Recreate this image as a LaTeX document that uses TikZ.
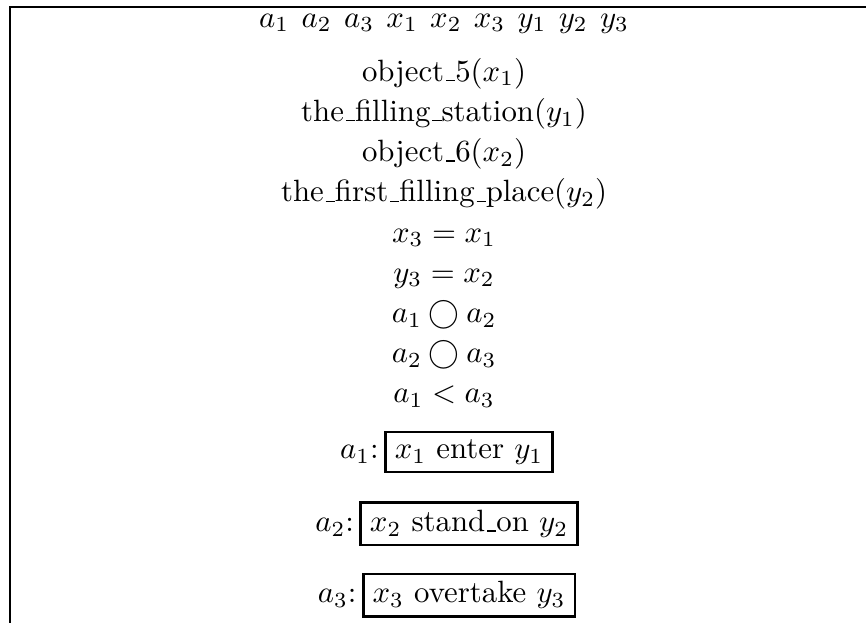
\documentclass[tikz,border=0pt]{standalone}
\usetikzlibrary{positioning}
% old-style low rule for the predicate names
\newcommand{\ubar}{\kern.06em\rule{.3em}{.4pt}}
\begin{document}
\begin{tikzpicture}[
  x=1pt,y=1pt,
  frame/.style={line width=0.75pt},
  cond/.style={anchor=base,inner sep=0pt},
  act/.style={draw,line width=0.8pt,inner xsep=3pt,inner ysep=2.5pt},
  lbl/.style={inner sep=0pt,anchor=base east}
]
  \useasboundingbox (0,0) rectangle (281.2,-202.3);
  \draw[frame] (281.2,-2.27) -| (3.25,-202.3);
  \node[cond] (refs) at (144.2,-8.8) {$a_1\hspace{4pt}a_2\hspace{4pt}a_3\hspace{4pt}x_1\hspace{4pt}x_2\hspace{4pt}x_3\hspace{4pt}y_1\hspace{4pt}y_2\hspace{4pt}y_3$};
  \node[cond] (c1) at (144.2,-26.4) {object\ubar 5($x_1$)};
  \node[cond] (c2) at (144.2,-39.45) {the\ubar filling\ubar station($y_1$)};
  \node[cond] (c3) at (144.2,-52.5) {object\ubar 6($x_2$)};
  \node[cond] (c4) at (144.2,-65.55) {the\ubar first\ubar filling\ubar place($y_2$)};
  \node[cond] (c5) at (144.2,-78.6) {$x_3 = x_1$};
  \node[cond] (c6) at (144.2,-91.65) {$y_3 = x_2$};
  \node[cond] (c7) at (144.2,-104.7) {$a_1 \bigcirc a_2$};
  \node[cond] (c8) at (144.2,-117.75) {$a_2 \bigcirc a_3$};
  \node[cond] (c9) at (144.2,-130.8) {$a_1 < a_3$};
  \node[act] (e1) at (152.3,-146.8) {$x_1$ enter $y_1$};
  \node[act] (e2) at (152.3,-170.1) {$x_2$ stand\ubar on $y_2$};
  \node[act] (e3) at (152.3,-193.3) {$x_3$ overtake $y_3$};
  \node[lbl,left=1.6pt of e1.base west,anchor=base east] (l1) {$a_1$:};
  \node[lbl,left=1.6pt of e2.base west,anchor=base east] (l2) {$a_2$:};
  \node[lbl,left=1.6pt of e3.base west,anchor=base east] (l3) {$a_3$:};
\end{tikzpicture}
\end{document}
